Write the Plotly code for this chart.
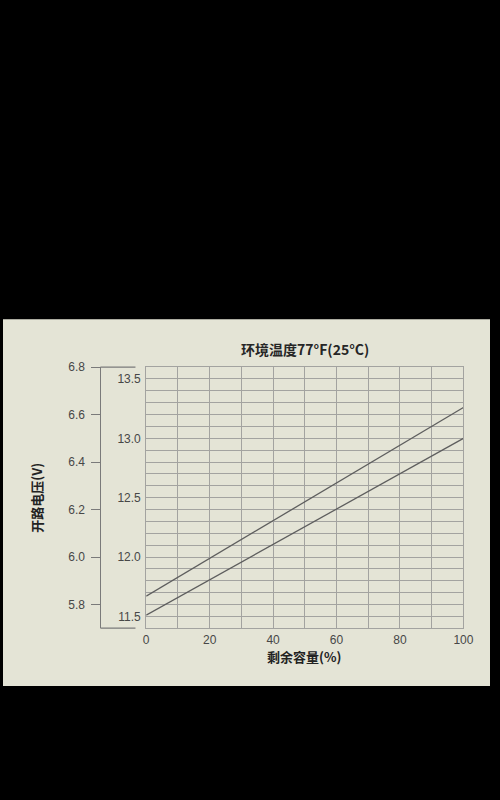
import plotly.graph_objects as go

# Data
capacity = [0, 100]                     # 剩余容量 (%)
upper_line = [11.67, 13.26]             # 开路电压 (V), upper curve (12V scale)
lower_line = [11.51, 13.00]             # 开路电压 (V), lower curve (12V scale)
right_ticks = [11.5, 12.0, 12.5, 13.0, 13.5]
right_ticklabels = ["11.5", "12.0", "12.5", "13.0", "13.5"]
left_ticks = [5.8, 6.0, 6.2, 6.4, 6.6, 6.8]
left_ticklabels = ["5.8", "6.0", "6.2", "6.4", "6.6", "6.8"]
x_ticks = [0, 20, 40, 60, 80, 100]

W, H = 500, 800
BG = "#e4e4d6"
GRID = "#a3a3a0"
LINE = "#5e5e5e"
TXT = "#474747"
FONT = "Liberation Sans, Arial, Noto Sans CJK SC, sans-serif"
CJK = "Noto Sans CJK SC, sans-serif"

# plot area in pixels (figure coordinates, top-down)
px_l, px_r, py_t, py_b = 147, 472.7, 363.3, 626.7
dx = [px_l / W, px_r / W]
dy = [1 - py_b / H, 1 - py_t / H]

fig = go.Figure()
fig.add_trace(go.Scatter(x=capacity, y=upper_line, mode="lines",
                         line=dict(color=LINE, width=1.3), showlegend=False, hoverinfo="skip"))
fig.add_trace(go.Scatter(x=capacity, y=lower_line, mode="lines",
                         line=dict(color=LINE, width=1.3), showlegend=False, hoverinfo="skip"))
# invisible trace to attach the 6V axis
fig.add_trace(go.Scatter(x=capacity, y=[v / 2 for v in lower_line], yaxis="y2", mode="lines",
                         line=dict(color="rgba(0,0,0,0)", width=0), showlegend=False, hoverinfo="skip"))

left_axis_x = 100 / W
stub_x = 136 / W

fig.update_layout(
    width=W, height=H,
    margin=dict(l=0, r=0, t=0, b=0),
    paper_bgcolor="black",
    plot_bgcolor=BG,
    font=dict(family=FONT, size=12, color=TXT),
    xaxis=dict(domain=dx, range=[0, 100], tickvals=x_ticks, ticks="",
               showgrid=True, gridcolor=GRID, gridwidth=1, zeroline=False,
               minor=dict(dtick=10, tick0=0, showgrid=True, gridcolor=GRID, gridwidth=1),
               showline=True, linecolor=GRID, linewidth=1, mirror=True,
               tickfont=dict(size=12, color=TXT), ticklabelstandoff=0),
    yaxis=dict(domain=dy, range=[11.4, 13.6], tickvals=right_ticks, ticktext=right_ticklabels,
               ticks="", showgrid=True, gridcolor=GRID, gridwidth=1, zeroline=False,
               minor=dict(dtick=0.1, tick0=11.4, showgrid=True, gridcolor=GRID, gridwidth=1),
               showline=True, linecolor=GRID, linewidth=1, mirror=True,
               tickfont=dict(size=12, color=TXT), ticklabelstandoff=2),
    yaxis2=dict(overlaying="y", anchor="free", position=left_axis_x, side="left",
                range=[5.7, 6.8], tickvals=left_ticks, ticktext=left_ticklabels,
                ticks="outside", ticklen=9, tickcolor="#7a7a7a", tickwidth=1,
                showline=True, linecolor="#7a7a7a", linewidth=1.2,
                showgrid=False, zeroline=False,
                tickfont=dict(size=12, color=TXT), ticklabelstandoff=4),
    shapes=[
        dict(type="rect", xref="paper", yref="paper", x0=0, x1=1,
             y0=1 - 685 / H, y1=1 - 315 / H, fillcolor=BG, line=dict(width=0), layer="below"),
        dict(type="line", xref="paper", yref="paper", x0=left_axis_x, x1=stub_x,
             y0=dy[1], y1=dy[1], line=dict(color="#7a7a7a", width=1.2)),
        dict(type="line", xref="paper", yref="paper", x0=left_axis_x, x1=stub_x,
             y0=dy[0], y1=dy[0], line=dict(color="#7a7a7a", width=1.2)),
    ],
    annotations=[
        dict(text="<b>环境温度77°F(25°C)</b>", xref="paper", yref="paper",
             x=310 / W, y=1 - 345 / H, showarrow=False, xanchor="center", yanchor="middle",
             font=dict(family=CJK, size=14, color="#262626")),
        dict(text="<b>剩余容量(%)</b>", xref="paper", yref="paper",
             x=309 / W, y=1 - 655 / H, showarrow=False, xanchor="center", yanchor="middle",
             font=dict(family=CJK, size=13, color="#222222")),
        dict(text="<b>开路电压(V)</b>", xref="paper", yref="paper", textangle=-90,
             x=35 / W, y=1 - 495 / H, showarrow=False, xanchor="center", yanchor="middle",
             font=dict(family=CJK, size=13, color="#222222")),
    ],
)

fig.write_html(
    "out.html",
    config={"displayModeBar": False},
    post_script=(
        "document.documentElement.style.margin='0';"
        "document.documentElement.style.overflow='hidden';"
        "document.body.style.margin='0';"
        "document.body.style.overflow='hidden';"
        "document.body.style.background='black';"
    ),
)
